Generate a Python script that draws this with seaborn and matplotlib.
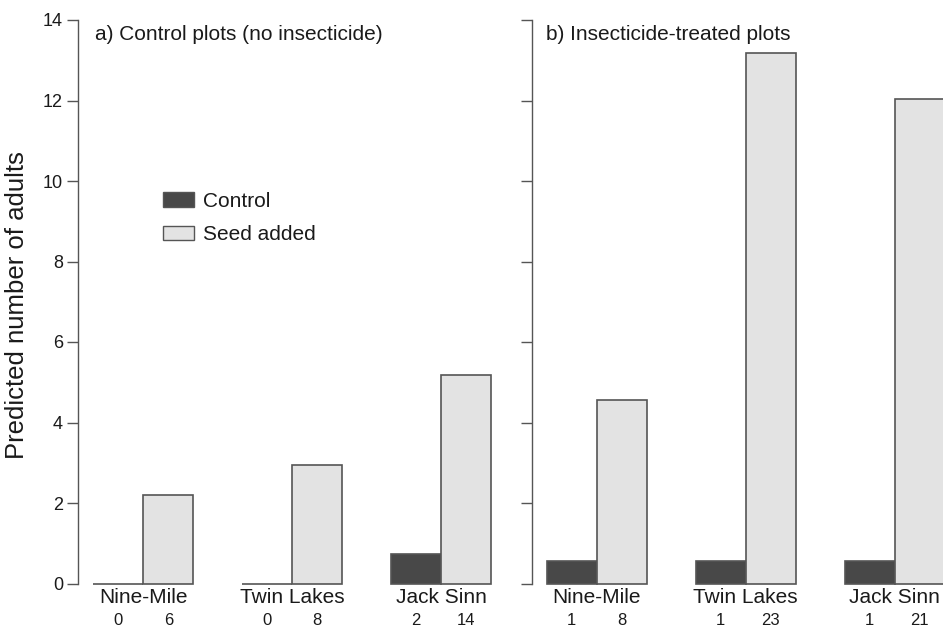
import matplotlib
matplotlib.use("Agg")
import matplotlib.pyplot as plt
from matplotlib.patches import Patch
import pandas as pd
import seaborn as sns

# Sites, treatments and model predictions
sites = ["Nine-Mile", "Twin Lakes", "Jack Sinn"]
treatments = ["Control", "Seed added"]

control_plots_control = [0.0, 0.0, 0.73]
control_plots_seed = [2.21, 2.94, 5.17]
insecticide_control = [0.57, 0.57, 0.57]
insecticide_seed = [4.57, 13.17, 12.03]

# Observed counts printed under each bar
control_plots_n_control = [0, 0, 2]
control_plots_n_seed = [6, 8, 14]
insecticide_n_control = [1, 1, 1]
insecticide_n_seed = [8, 23, 21]

panel_titles = ["a) Control plots (no insecticide)", "b) Insecticide-treated plots"]
y_ticks = [0, 2, 4, 6, 8, 10, 12, 14]

dark = "#484848"
light = "#e3e3e3"
edge = "#555555"
axis_col = "#555555"
text_col = "#1a1a1a"

sns.set_style("white")
plt.rcParams["font.family"] = ["Liberation Sans", "DejaVu Sans"]


def make_frame(ctrl, seed):
    return pd.DataFrame({
        "site": sites * 2,
        "treatment": [treatments[0]] * 3 + [treatments[1]] * 3,
        "value": list(ctrl) + list(seed),
    })


W, H = 943, 627
fig = plt.figure(figsize=(W / 100, H / 100), dpi=100)

left_px, spine_l2 = 78.3, 531.7
bottom_px, top_px = 583.5, 20.0
bottom = (H - bottom_px) / H
height = (bottom_px - top_px) / H
unit_px = 149.0
x0 = -0.436

ax1 = fig.add_axes([left_px / W, bottom, (515.8 - left_px) / W, height])
ax2 = fig.add_axes([spine_l2 / W, bottom, (W - spine_l2) / W, height])

panels = [
    (ax1, make_frame(control_plots_control, control_plots_seed),
     [control_plots_n_control, control_plots_n_seed], True),
    (ax2, make_frame(insecticide_control, insecticide_seed),
     [insecticide_n_control, insecticide_n_seed], False),
]

for ax, df, counts, show_labels in panels:
    sns.barplot(data=df, x="site", y="value", hue="treatment",
                order=sites, hue_order=treatments,
                palette=[dark, light], saturation=1, width=0.671,
                edgecolor=edge, linewidth=1.2, legend=False, ax=ax)
    ax.set_ylim(0, 14)
    ax_width_px = ax.get_position().width * W
    ax.set_xlim(x0, x0 + ax_width_px / unit_px)
    for p in ax.patches:
        p.set_clip_on(False)

    # counts under each bar
    for cont, ns in zip(ax.containers, counts):
        for bar, n in zip(cont, ns):
            cx = bar.get_x() + bar.get_width() / 2
            ax.annotate(str(n), xy=(cx, 0), xytext=(0, -21.5),
                        textcoords="offset points", ha="center", va="top",
                        fontsize=12, color=text_col, annotation_clip=False)

    for s in ["top", "right", "bottom"]:
        ax.spines[s].set_visible(False)
    ax.spines["left"].set_color(axis_col)
    ax.spines["left"].set_linewidth(1.0)
    ax.spines["left"].set_bounds(0, 14)
    ax.set_yticks(y_ticks)
    ax.tick_params(axis="y", direction="out", length=8, width=1.0,
                   color=axis_col, pad=3, labelsize=13, labelcolor=text_col,
                   left=True, labelleft=show_labels)
    ax.tick_params(axis="x", length=0, pad=3.5, labelsize=15,
                   labelcolor=text_col)
    ax.set_xlabel("")
    ax.set_ylabel("")

fig.text(95 / W, 1 - 40 / H, panel_titles[0], fontsize=15, color=text_col,
         ha="left", va="baseline")
fig.text(546 / W, 1 - 40 / H, panel_titles[1], fontsize=15, color=text_col,
         ha="left", va="baseline")

fig.text(17 / W, 1 - 305 / H, "Predicted number of adults", rotation=90,
         ha="center", va="center", fontsize=18.5, color=text_col)

handles = [Patch(facecolor=dark, edgecolor=edge, linewidth=1.0),
           Patch(facecolor=light, edgecolor=edge, linewidth=1.0)]
ax1.legend(handles, treatments, loc="upper left",
           bbox_to_anchor=(163 / W, 1 - 192 / H),
           bbox_transform=fig.transFigure, frameon=False, fontsize=15,
           handlelength=1.48, handleheight=0.71, handletextpad=0.45,
           labelspacing=0.68, borderpad=0, borderaxespad=0,
           labelcolor=text_col)

fig.savefig("out.png", dpi=100)
